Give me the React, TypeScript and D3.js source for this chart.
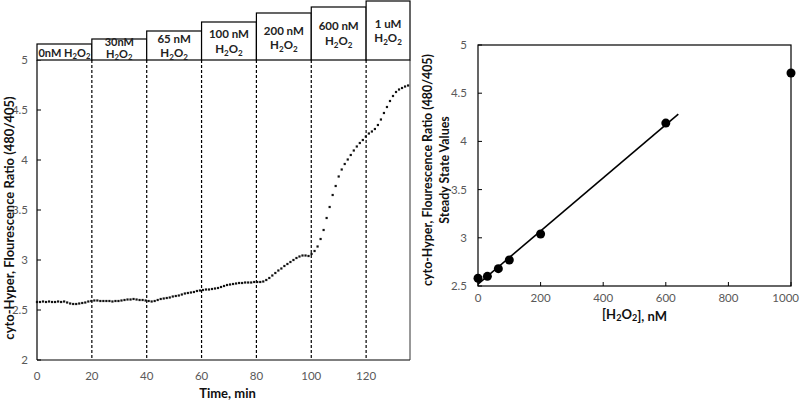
import React from "react";
import * as d3 from "d3";

// ---------- DATA ----------
const timeStep = 1.1; // minutes between samples
const ratioValues = [
  2.58, 2.58, 2.585, 2.58, 2.585, 2.58, 2.58, 2.585, 2.58, 2.585,
  2.575, 2.565, 2.56, 2.56, 2.565, 2.57, 2.575, 2.585, 2.59, 2.595,
  2.595, 2.59, 2.59, 2.59, 2.59, 2.585, 2.59, 2.59, 2.595, 2.6,
  2.605, 2.605, 2.61, 2.605, 2.6, 2.6, 2.595, 2.59, 2.585, 2.59,
  2.6, 2.61, 2.615, 2.62, 2.625, 2.635, 2.64, 2.645, 2.655, 2.665,
  2.67, 2.675, 2.68, 2.69, 2.695, 2.7, 2.705, 2.705, 2.71, 2.715,
  2.72, 2.73, 2.74, 2.75, 2.755, 2.76, 2.765, 2.77, 2.77, 2.775,
  2.775, 2.775, 2.78, 2.78, 2.78, 2.785, 2.8, 2.82, 2.845, 2.87,
  2.895, 2.915, 2.94, 2.96, 2.98, 3.0, 3.02, 3.035, 3.045, 3.045,
  3.04, 3.06, 3.09, 3.135, 3.21, 3.3, 3.42, 3.53, 3.65, 3.74,
  3.835, 3.905, 3.96, 4.005, 4.05, 4.095, 4.135, 4.17, 4.2, 4.235,
  4.265, 4.285, 4.31, 4.35, 4.405, 4.47, 4.53, 4.59, 4.64, 4.68,
  4.705, 4.72, 4.735, 4.745,
];
const additionTimes = [0, 20, 40, 60, 80, 100, 120];
const concLabels = ["0nM", "30nM", "65 nM", "100 nM", "200 nM", "600 nM", "1 uM"];
const leftXTicks = [0, 20, 40, 60, 80, 100, 120];
const leftYTicks = [2, 2.5, 3, 3.5, 4, 4.5, 5];

const concentrations = [0, 30, 65, 100, 200, 600, 1000];
const steadyState = [2.58, 2.6, 2.68, 2.77, 3.04, 4.19, 4.71];
const fitPointCount = 6; // linear fit uses first six points
const fitXMax = 640;
const rightXTicks = [0, 200, 400, 600, 800, 1000];
const rightYTicks = [2.5, 3, 3.5, 4, 4.5, 5];

// ---------- LAYOUT ----------
const boxTops = [44, 39, 31, 22, 13, 7, 1];
const line1Y = [53, 42, 39, 34, 31, 26, 24];
const line2Y = [0, 55, 54, 50, 46, 42, 39];
const boxFont = [11, 11, 11.5, 11.5, 11.5, 11.5, 11.5];

const FONT = "Lato, 'Open Sans', 'DejaVu Sans', sans-serif";
const GRAY = "#595959";

function H2O2({ size }: { size: number }) {
  const s = size * 0.7;
  return (
    <>
      <tspan>H</tspan>
      <tspan fontSize={s} dy={size * 0.22}>2</tspan>
      <tspan dy={-size * 0.22}>O</tspan>
      <tspan fontSize={s} dy={size * 0.22}>2</tspan>
    </>
  );
}

export default function App() {
  const lx = d3.scaleLinear().domain([0, 136]).range([37, 410]);
  const ly = d3.scaleLinear().domain([2, 5]).range([360, 60]);
  const pts = ratioValues.map((v, i) => ({ t: i * timeStep, v }));

  const rx = d3.scaleLinear().domain([0, 1000]).range([478, 791]);
  const ry = d3.scaleLinear().domain([2.5, 5]).range([286, 45]);

  const fx = concentrations.slice(0, fitPointCount);
  const fy = steadyState.slice(0, fitPointCount);
  const mx = d3.mean(fx)!;
  const my = d3.mean(fy)!;
  const sxy = d3.sum(fx.map((x, i) => (x - mx) * (fy[i] - my)));
  const sxx = d3.sum(fx.map((x) => (x - mx) * (x - mx)));
  const slope = sxy / sxx;
  const intercept = my - slope * mx;

  return (
    <svg
      width={800}
      height={400}
      style={{ position: "absolute", left: 0, top: 0, background: "#fff" }}
      fontFamily={FONT}
    >
      <rect x={0} y={0} width={800} height={400} fill="#fff" />

      {/* ---------- LEFT CHART ---------- */}
      {additionTimes.slice(1).map((t) => (
        <line
          key={"d" + t}
          x1={lx(t)}
          x2={lx(t)}
          y1={ly(5)}
          y2={ly(2)}
          stroke="#000"
          strokeWidth={1.2}
          strokeDasharray="3,2"
        />
      ))}
      <line x1={lx(0)} x2={lx(0)} y1={ly(5)} y2={ly(2)} stroke="#000" strokeWidth={1.2} />
      <line x1={lx(0)} x2={lx(136)} y1={ly(2)} y2={ly(2)} stroke="#000" strokeWidth={1.2} />
      <line x1={lx(136)} x2={lx(136)} y1={ly(5)} y2={ly(2)} stroke="#333" strokeWidth={1} />
      {leftYTicks.map((v) => (
        <g key={"ly" + v}>
          <line x1={lx(0)} x2={lx(0) + 4} y1={ly(v)} y2={ly(v)} stroke="#000" />
          <text x={28} y={ly(v)} dy="0.35em" textAnchor="end" fontSize={11.5} fill={GRAY}>
            {v}
          </text>
        </g>
      ))}
      {leftXTicks.map((v) => (
        <text key={"lx" + v} x={lx(v)} y={376} dy="0.35em" textAnchor="middle" fontSize={11.5} fill={GRAY}>
          {v}
        </text>
      ))}
      <text x={(lx(0) + lx(136)) / 2 + 4} y={393} dy="0.35em" textAnchor="middle" fontSize={13} fontWeight="bold" fill="#111">
        Time, min
      </text>
      <text
        transform={`translate(9, ${(ly(2) + ly(5)) / 2 + 8}) rotate(-90)`}
        textAnchor="middle"
        dy="0.35em"
        fontSize={13}
        fontWeight="bold"
        fill="#111"
      >
        cyto-Hyper, Flourescence Ratio (480/405)
      </text>

      {pts.map((p, i) => (
        <rect key={"p" + i} x={lx(p.t) - 1.1} y={ly(p.v) - 1.1} width={2.2} height={2.2} fill="#111" />
      ))}

      {additionTimes.map((t, i) => {
        const x0 = lx(t);
        const x1 = i < additionTimes.length - 1 ? lx(additionTimes[i + 1]) : lx(136);
        const cx = (x0 + x1) / 2;
        const fs = boxFont[i];
        return (
          <g key={"b" + i}>
            <rect x={x0} y={boxTops[i]} width={x1 - x0} height={ly(5) - boxTops[i]} fill="#fff" stroke="#000" strokeWidth={1.2} />
            {i === 0 ? (
              <text x={cx} y={line1Y[i] + 4} textAnchor="middle" fontSize={fs} fontWeight="bold" fill="#222">
                {concLabels[i]} <H2O2 size={fs} />
              </text>
            ) : (
              <>
                <text x={cx} y={line1Y[i] + 4} textAnchor="middle" fontSize={fs} fontWeight="bold" fill="#222">
                  {concLabels[i]}
                </text>
                <text x={cx} y={line2Y[i] + 3} textAnchor="middle" fontSize={fs} fontWeight="bold" fill="#222">
                  <H2O2 size={fs} />
                </text>
              </>
            )}
          </g>
        );
      })}

      {/* ---------- RIGHT CHART ---------- */}
      <rect x={rx(0)} y={ry(5)} width={rx(1000) - rx(0)} height={ry(2.5) - ry(5)} fill="none" stroke="#000" strokeWidth={1.2} />
      {rightYTicks.map((v) => (
        <g key={"ry" + v}>
          <line x1={rx(0)} x2={rx(0) + 4} y1={ry(v)} y2={ry(v)} stroke="#000" />
          <text x={467} y={ry(v)} dy="0.35em" textAnchor="end" fontSize={11.5} fill={GRAY}>
            {v}
          </text>
        </g>
      ))}
      {rightXTicks.map((v, i) => (
        <g key={"rx" + v}>
          <line x1={rx(v)} x2={rx(v)} y1={ry(2.5)} y2={ry(2.5) - 4} stroke="#000" />
          <text
            x={i === rightXTicks.length - 1 ? 799 : rx(v)}
            y={298}
            dy="0.35em"
            textAnchor={i === rightXTicks.length - 1 ? "end" : "middle"}
            fontSize={11.5}
            fill={GRAY}
          >
            {v}
          </text>
        </g>
      ))}
      <text x={(rx(0) + rx(1000)) / 2} y={314} dy="0.35em" textAnchor="middle" fontSize={13} fontWeight="bold" fill="#111">
        [<H2O2 size={13} />], nM
      </text>
      <text
        transform={`translate(428, 170) rotate(-90)`}
        textAnchor="middle"
        dy="0.35em"
        fontSize={12.4}
        fontWeight="bold"
        fill="#111"
      >
        cyto-Hyper, Flourescence Ratio (480/405)
      </text>
      <text
        transform={`translate(445, 170) rotate(-90)`}
        textAnchor="middle"
        dy="0.35em"
        fontSize={12.4}
        fontWeight="bold"
        fill="#111"
      >
        Steady State Values
      </text>
      <line
        x1={rx(0)}
        y1={ry(intercept)}
        x2={rx(fitXMax)}
        y2={ry(intercept + slope * fitXMax)}
        stroke="#000"
        strokeWidth={1.6}
      />
      {concentrations.map((c, i) => (
        <circle key={"c" + i} cx={rx(c)} cy={ry(steadyState[i])} r={4.5} fill="#000" />
      ))}
    </svg>
  );
}
